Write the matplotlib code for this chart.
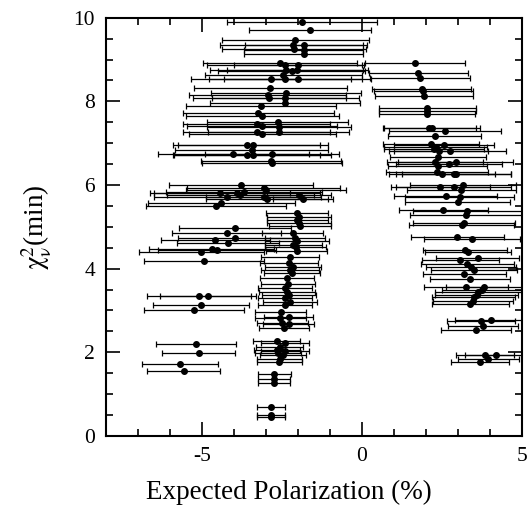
import matplotlib.pyplot as plt
from matplotlib.ticker import MultipleLocator

# left branch: expected polarization, chi2 and half-width of the error bar
left_x = [-1.87, -1.62, -2.09, -2.15, -2.13, -1.81, -1.83, -1.83,
          -2.56, -2.40, -1.99, -2.37, -2.20, -2.02, -2.46, -2.40, -2.84, -2.01,
          -2.87, -2.95, -2.90, -2.38, -2.40, -2.40, -3.16,
          -3.24, -3.12, -3.29, -3.12, -2.64, -2.59, -2.61, -3.29, -3.12,
          -3.60, -3.40, -3.45, -4.02, -3.60, -3.42, -2.82, -2.85, -2.82,
          -3.79, -3.08, -3.01, -4.44, -3.90, -3.81, -3.69, -1.96, -4.21, -3.08,
          -2.97, -1.85, -4.40, -4.57,
          -2.04, -1.96, -2.02, -1.97, -1.94,
          -3.97, -4.23, -2.17, -3.97, -4.59, -4.19, -2.10, -2.04, -2.15, -2.07,
          -4.70, -4.53, -5.03, -2.04, -4.94,
          -2.25, -2.29, -2.17, -2.25, -2.20, -2.35, -2.32, -2.40, -2.35, -2.29,
          -2.40, -2.25, -2.40,
          -5.09, -4.82, -5.03, -5.25,
          -2.55, -2.56, -2.30, -2.50, -2.30, -2.45,
          -5.19, -5.11, -5.69, -5.58,
          -2.67, -2.40, -2.58, -2.67, -2.40, -2.63, -2.46, -2.58, -2.59,
          -2.74, -2.74, -2.74, -2.84, -2.84, -2.84]
left_y = [9.91, 9.71, 9.47, 9.35, 9.25, 9.35, 9.23, 9.13,
          8.91, 8.86, 8.86, 8.75, 8.73, 8.75, 8.63, 8.53, 8.54, 8.53,
          8.32, 8.16, 8.08, 8.20, 8.08, 7.96, 7.89,
          7.72, 7.66, 7.46, 7.42, 7.51, 7.38, 7.27, 7.27, 7.21,
          6.95, 6.95, 6.83, 6.75, 6.72, 6.72, 6.74, 6.58, 6.53,
          6.00, 5.92, 5.87, 5.81, 5.81, 5.75, 5.83, 5.77, 5.71, 5.72,
          5.66, 5.66, 5.58, 5.50,
          5.33, 5.23, 5.17, 5.10, 5.01,
          4.97, 4.86, 4.86, 4.73, 4.68, 4.62, 4.73, 4.65, 4.57, 4.52,
          4.47, 4.45, 4.39, 4.41, 4.19,
          4.29, 4.13, 4.05, 3.97, 3.89, 3.77, 3.64, 3.53, 3.45, 3.37,
          3.29, 3.21, 3.13,
          3.34, 3.34, 3.13, 3.00,
          2.96, 2.82, 2.84, 2.71, 2.67, 2.59,
          2.19, 1.98, 1.72, 1.54,
          2.26, 2.21, 2.13, 2.05, 2.03, 1.98, 1.93, 1.85, 1.76,
          1.48, 1.35, 1.27, 0.70, 0.50, 0.45]
left_err = [2.34, 1.90, 2.30, 2.30, 2.25, 1.85, 1.85, 1.85,
            2.40, 2.45, 2.00, 2.40, 2.30, 2.20, 2.45, 2.40, 2.50, 2.30,
            2.40, 2.45, 2.40, 2.35, 2.30, 2.35, 2.35,
            2.35, 2.40, 2.30, 2.35, 2.20, 2.25, 2.20, 2.30, 2.30,
            2.30, 2.35, 2.40, 2.35, 2.30, 2.45, 2.10, 2.20, 2.20,
            2.25, 2.40, 2.50, 2.20, 2.60, 2.30, 2.45, 1.00, 2.30, 1.80,
            1.90, 0.95, 2.30, 2.20,
            0.97, 1.00, 0.95, 1.00, 0.98,
            1.75, 1.70, 0.95, 1.80, 1.70, 1.60, 0.95, 1.00, 0.90, 0.95,
            1.95, 1.85, 1.95, 0.95, 1.87,
            0.90, 0.90, 0.88, 0.90, 0.88, 0.85, 0.85, 0.85, 0.88, 0.85,
            0.85, 0.85, 0.85,
            1.63, 1.50, 1.50, 1.56,
            0.80, 0.80, 0.78, 0.80, 0.80, 0.78,
            1.25, 1.15, 1.19, 1.15,
            0.73, 0.75, 0.73, 0.72, 0.75, 0.73, 0.72, 0.70, 0.70,
            0.52, 0.50, 0.50, 0.43, 0.44, 0.43]

# right branch
right_x = [1.66, 1.76, 1.81, 1.86, 1.92, 1.94, 2.04, 2.04, 2.04,
           2.10, 2.18, 2.59, 2.27, 2.15, 2.56, 2.30, 2.25, 2.76, 2.40, 2.38,
           2.27, 2.93, 2.71, 2.36, 2.34, 2.50, 2.86, 2.95,
           2.44, 2.86, 3.15, 3.10, 2.61, 3.05, 2.99,
           2.54, 3.29, 3.25, 3.11, 3.18, 2.98, 3.43,
           3.22, 3.32, 3.61, 3.07, 3.29, 3.41, 3.51, 3.20, 3.38,
           3.25, 3.82, 3.74, 3.64, 3.58, 3.49, 3.46, 3.39,
           4.02, 3.72, 3.79, 3.56,
           4.18, 3.84, 3.95, 3.69]
right_y = [8.93, 8.68, 8.55, 8.29, 8.24, 8.12, 7.84, 7.78, 7.70,
           7.36, 7.36, 7.28, 7.18, 6.99, 6.95, 6.91, 6.85, 6.82, 6.81, 6.68,
           6.56, 6.56, 6.50, 6.46, 6.31, 6.26, 6.26, 6.26,
           5.96, 5.96, 6.00, 5.88, 5.74, 5.72, 5.59,
           5.41, 5.37, 5.29, 5.05, 5.10, 4.75, 4.70,
           4.45, 4.39, 4.25, 4.20, 4.11, 4.05, 3.97, 3.86, 3.75,
           3.56, 3.56, 3.49, 3.45, 3.37, 3.33, 3.23, 3.15,
           2.76, 2.74, 2.62, 2.54,
           1.94, 1.94, 1.84, 1.77]
right_err = [1.57, 1.55, 1.55, 1.55, 1.55, 1.52, 1.52, 1.52, 1.50,
             1.45, 1.50, 1.75, 1.45, 1.50, 1.55, 1.60, 1.55, 1.75, 1.55, 1.50,
             1.50, 1.80, 1.65, 1.55, 1.60, 1.65, 1.80, 1.70,
             1.55, 1.80, 1.65, 1.70, 1.60, 1.70, 1.65,
             1.40, 1.70, 1.75, 1.65, 1.60, 1.45, 1.50,
             1.30, 1.35, 1.30, 1.20, 1.45, 1.40, 1.35, 1.30, 1.25,
             1.30, 1.20, 1.25, 1.35, 1.30, 1.30, 1.25, 1.20,
             1.10, 1.05, 1.10, 1.10,
             0.95, 0.90, 0.95, 0.90]

plt.rcParams['font.family'] = 'Liberation Serif'
plt.rcParams['mathtext.fontset'] = 'stix'
plt.rcParams['axes.unicode_minus'] = False

fig = plt.figure(figsize=(5.31, 5.08), dpi=100)
ax = fig.add_axes([0.2, 0.142, 0.783, 0.823])

for xs, ys, es in [(left_x, left_y, left_err), (right_x, right_y, right_err)]:
    ax.errorbar(xs, ys, xerr=es, fmt='o', color='black', ms=4,
                ecolor='black', elinewidth=0.9, capsize=2, capthick=0.9)

ax.set_xlim(-8, 5)
ax.set_ylim(0, 10)
ax.xaxis.set_major_locator(MultipleLocator(5))
ax.xaxis.set_minor_locator(MultipleLocator(1))
ax.yaxis.set_major_locator(MultipleLocator(2))
ax.yaxis.set_minor_locator(MultipleLocator(0.5))
ax.tick_params(which='both', direction='in', top=True, right=True, width=1.2)
ax.tick_params(which='major', length=10, labelsize=15.5, pad=8)
ax.tick_params(which='minor', length=5)
for s in ax.spines.values():
    s.set_linewidth(1.5)

ax.set_xlabel('Expected Polarization (%)', fontsize=19.5)
ax.xaxis.set_label_coords(0.44, -0.105)
ax.set_ylabel(r'$\mathrm{\chi}^2_\mathrm{\nu}$(min)', fontsize=19.5, labelpad=14)

fig.savefig('out.png', dpi=100)
